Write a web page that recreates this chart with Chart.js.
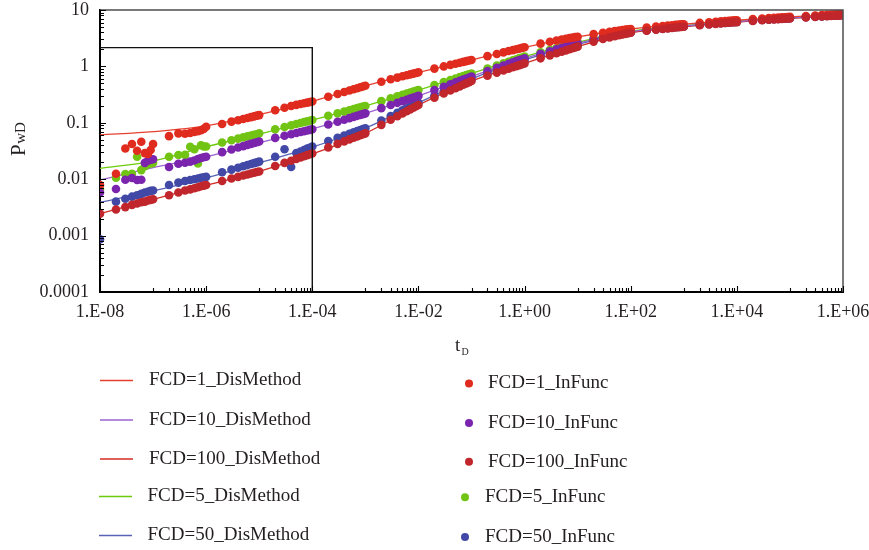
<!DOCTYPE html>
<html>
<head>
<meta charset="utf-8">
<script src="https://cdn.jsdelivr.net/npm/chart.js@4.4.1/dist/chart.umd.min.js"></script>
<style>
  html, body { margin: 0; padding: 0; background: #fff; }
  canvas { display: block; }
</style>
</head>
<body>
<canvas id="chart" width="869" height="550"></canvas>
<script>
// dimensionless time of every InFunc sample
const tD = [
  1e-8, 2e-8, 3e-8, 4e-8, 5e-8, 6e-8, 7e-8, 8e-8, 9e-8,
  1e-7, 2e-7, 3e-7, 4e-7, 5e-7, 6e-7, 7e-7, 8e-7, 9e-7,
  1e-6, 2e-6, 3e-6, 4e-6, 5e-6, 6e-6, 7e-6, 8e-6, 9e-6,
  1e-5, 2e-5, 3e-5, 4e-5, 5e-5, 6e-5, 7e-5, 8e-5, 9e-5,
  1e-4, 2e-4, 3e-4, 4e-4, 5e-4, 6e-4, 7e-4, 8e-4, 9e-4,
  1e-3, 2e-3, 3e-3, 4e-3, 5e-3, 6e-3, 7e-3, 8e-3, 9e-3,
  0.01, 0.02, 0.03, 0.04, 0.05, 0.06, 0.07, 0.08, 0.09,
  0.1, 0.2, 0.3, 0.4, 0.5, 0.6, 0.7, 0.8, 0.9,
  1, 2, 3, 4, 5, 6, 7, 8, 9,
  10, 20, 30, 40, 50, 60, 70, 80, 90,
  100, 200, 300, 400, 500, 600, 700, 800, 900,
  1000, 2000, 3000, 4000, 5000, 6000, 7000, 8000, 9000,
  1e4, 2e4, 3e4, 4e4, 5e4, 6e4, 7e4, 8e4, 9e4,
  1e5, 2e5, 3e5, 4e5, 5e5, 6e5, 7e5, 8e5, 9e5,
  1e6
];

// InFunc results (PwD)
const fcd1InFunc = [
  0.0079, 0.0125, 0.035, 0.042, 0.032, 0.046, 0.029, 0.028, 0.033,
  0.042, 0.058, 0.065, 0.064, 0.066, 0.069, 0.071, 0.074, 0.078,
  0.085, 0.095, 0.105, 0.111, 0.117, 0.122, 0.126, 0.130, 0.134,
  0.137, 0.167, 0.185, 0.198, 0.208, 0.216, 0.222, 0.228, 0.233,
  0.238, 0.289, 0.324, 0.351, 0.374, 0.394, 0.411, 0.427, 0.441,
  0.455, 0.536, 0.590, 0.632, 0.667, 0.696, 0.721, 0.745, 0.766,
  0.785, 0.914, 0.999, 1.064, 1.116, 1.162, 1.202, 1.238, 1.270,
  1.30, 1.52, 1.66, 1.77, 1.87, 1.94, 2.01, 2.07, 2.13,
  2.18, 2.53, 2.74, 2.88, 3.00, 3.09, 3.17, 3.24, 3.30,
  3.35, 3.73, 3.95, 4.10, 4.22, 4.32, 4.41, 4.48, 4.54,
  4.6, 4.90, 5.08, 5.20, 5.30, 5.38, 5.45, 5.50, 5.55,
  5.6, 5.90, 6.08, 6.20, 6.30, 6.38, 6.45, 6.50, 6.55,
  6.6, 6.89, 7.05, 7.17, 7.26, 7.34, 7.40, 7.46, 7.51,
  7.55, 7.84, 8.00, 8.12, 8.21, 8.29, 8.35, 8.41, 8.46,
  8.5
];
const fcd10InFunc = [
  0.0058, 0.0067, 0.0098, 0.0105, 0.0097, 0.0098, 0.0195, 0.0213, 0.0222,
  0.0226, 0.0165, 0.0188, 0.0196, 0.0205, 0.0215, 0.0228, 0.0238, 0.0245,
  0.025, 0.0302, 0.0336, 0.0364, 0.0386, 0.0406, 0.0423, 0.0438, 0.0453,
  0.0465, 0.054, 0.059, 0.0628, 0.0659, 0.0686, 0.0709, 0.073, 0.0749,
  0.0766, 0.0932, 0.1046, 0.1134, 0.1209, 0.1272, 0.1329, 0.138, 0.1427,
  0.147, 0.182, 0.207, 0.226, 0.242, 0.256, 0.269, 0.280, 0.290,
  0.30, 0.380, 0.437, 0.482, 0.520, 0.554, 0.584, 0.611, 0.636,
  0.66, 0.826, 0.942, 1.033, 1.111, 1.178, 1.239, 1.294, 1.343,
  1.39, 1.67, 1.86, 2.01, 2.14, 2.24, 2.34, 2.42, 2.50,
  2.57, 3.03, 3.30, 3.49, 3.64, 3.76, 3.86, 3.95, 4.03,
  4.1, 4.43, 4.62, 4.76, 4.87, 4.96, 5.03, 5.09, 5.15,
  5.2, 5.52, 5.70, 5.83, 5.93, 6.02, 6.09, 6.15, 6.20,
  6.25, 6.55, 6.73, 6.85, 6.95, 7.03, 7.10, 7.15, 7.20,
  7.25, 7.54, 7.70, 7.82, 7.91, 7.99, 8.05, 8.11, 8.16,
  8.2
];
const fcd100InFunc = [
  0.00245, 0.0029, 0.0032, 0.0035, 0.0037, 0.0039, 0.004, 0.0042, 0.0043,
  0.0044, 0.0052, 0.0058, 0.0063, 0.0066, 0.0069, 0.0072, 0.0075, 0.0077,
  0.0079, 0.0093, 0.0103, 0.011, 0.0116, 0.0121, 0.0126, 0.013, 0.0134,
  0.0137, 0.0171, 0.0195, 0.0213, 0.0229, 0.0243, 0.0255, 0.0267, 0.0277,
  0.0286, 0.0366, 0.0423, 0.0469, 0.0508, 0.0542, 0.0573, 0.0601, 0.0627,
  0.065, 0.092, 0.113, 0.1305, 0.146, 0.160, 0.173, 0.185, 0.196,
  0.207, 0.278, 0.330, 0.373, 0.410, 0.443, 0.472, 0.500, 0.525,
  0.55, 0.683, 0.776, 0.849, 0.910, 0.964, 1.011, 1.055, 1.094,
  1.13, 1.39, 1.57, 1.71, 1.82, 1.92, 2.01, 2.10, 2.17,
  2.24, 2.75, 3.06, 3.27, 3.44, 3.57, 3.68, 3.78, 3.87,
  3.95, 4.28, 4.47, 4.61, 4.72, 4.81, 4.88, 4.94, 5.00,
  5.05, 5.37, 5.55, 5.68, 5.78, 5.87, 5.94, 6.00, 6.05,
  6.1, 6.40, 6.58, 6.70, 6.80, 6.88, 6.95, 7.00, 7.05,
  7.1, 7.39, 7.55, 7.67, 7.76, 7.84, 7.90, 7.96, 8.01,
  8.05
];
const fcd5InFunc = [
  0.0066, 0.0106, 0.0124, 0.0125, 0.025, 0.0145, 0.017, 0.0185, 0.019,
  0.0195, 0.025, 0.0268, 0.027, 0.0377, 0.034, 0.019, 0.040, 0.038,
  0.038, 0.0447, 0.049, 0.0524, 0.0551, 0.0574, 0.0594, 0.0612, 0.0628,
  0.065, 0.0766, 0.0842, 0.090, 0.095, 0.099, 0.103, 0.106, 0.109,
  0.112, 0.133, 0.147, 0.158, 0.167, 0.175, 0.182, 0.188, 0.194,
  0.199, 0.242, 0.271, 0.294, 0.313, 0.329, 0.344, 0.357, 0.369,
  0.38, 0.466, 0.526, 0.572, 0.611, 0.645, 0.675, 0.702, 0.727,
  0.75, 0.92, 1.04, 1.13, 1.21, 1.28, 1.34, 1.40, 1.44,
  1.49, 1.78, 1.97, 2.12, 2.24, 2.35, 2.44, 2.52, 2.60,
  2.67, 3.13, 3.40, 3.59, 3.74, 3.86, 3.96, 4.05, 4.13,
  4.2, 4.53, 4.72, 4.86, 4.97, 5.06, 5.13, 5.19, 5.25,
  5.3, 5.62, 5.80, 5.93, 6.03, 6.12, 6.19, 6.25, 6.30,
  6.35, 6.65, 6.83, 6.95, 7.05, 7.13, 7.20, 7.25, 7.30,
  7.35, 7.64, 7.80, 7.92, 8.01, 8.09, 8.15, 8.21, 8.26,
  8.3
];
const fcd50InFunc = [
  0.00086, 0.004, 0.0045, 0.0049, 0.0052, 0.0055, 0.0058, 0.006, 0.0062,
  0.0063, 0.0079, 0.0087, 0.0093, 0.0097, 0.0100, 0.0103, 0.0106, 0.0108,
  0.011, 0.0133, 0.0148, 0.016, 0.017, 0.0178, 0.0186, 0.0193, 0.0199,
  0.0205, 0.025, 0.034, 0.0165, 0.029, 0.031, 0.033, 0.035, 0.036,
  0.038, 0.0475, 0.0542, 0.0595, 0.0639, 0.0678, 0.0713, 0.0744, 0.0773,
  0.080, 0.1095, 0.1315, 0.150, 0.166, 0.180, 0.193, 0.205, 0.216,
  0.227, 0.304, 0.361, 0.407, 0.448, 0.483, 0.516, 0.546, 0.574,
  0.60, 0.757, 0.868, 0.956, 1.031, 1.095, 1.153, 1.207, 1.255,
  1.30, 1.57, 1.76, 1.90, 2.02, 2.13, 2.22, 2.30, 2.38,
  2.45, 2.92, 3.19, 3.38, 3.53, 3.66, 3.76, 3.85, 3.93,
  4.0, 4.33, 4.52, 4.66, 4.77, 4.86, 4.93, 4.99, 5.05,
  5.1, 5.42, 5.60, 5.73, 5.83, 5.92, 5.99, 6.05, 6.10,
  6.15, 6.45, 6.63, 6.75, 6.85, 6.93, 7.00, 7.05, 7.10,
  7.15, 7.44, 7.60, 7.72, 7.81, 7.89, 7.95, 8.01, 8.06,
  8.1
];

// DisMethod curves, one value per decade
const tLine = [1e-8, 1e-7, 1e-6, 1e-5, 1e-4, 1e-3, 1e-2, 0.1, 1, 10, 100, 1e3, 1e4, 1e5, 1e6];
const fcd1Dis   = [0.061, 0.0697, 0.088, 0.14, 0.24, 0.455, 0.785, 1.30, 2.18, 3.35, 4.6, 5.6, 6.6, 7.55, 8.5];
const fcd10Dis  = [0.0097, 0.016, 0.025, 0.044, 0.078, 0.147, 0.30, 0.66, 1.39, 2.57, 4.1, 5.2, 6.25, 7.25, 8.2];
const fcd100Dis = [0.00245, 0.0044, 0.0078, 0.0137, 0.028, 0.065, 0.207, 0.55, 1.13, 2.24, 3.95, 5.05, 6.1, 7.1, 8.05];
const fcd5Dis   = [0.0156, 0.021, 0.0377, 0.063, 0.112, 0.199, 0.38, 0.75, 1.49, 2.67, 4.2, 5.3, 6.35, 7.35, 8.3];
const fcd50Dis  = [0.0039, 0.0062, 0.0105, 0.0195, 0.037, 0.080, 0.227, 0.60, 1.30, 2.45, 4.0, 5.1, 6.15, 7.15, 8.1];

// early-time window outline
const boxT = [1e-8, 1e-4, 1e-4];
const boxP = [2.15, 2.15, 1e-4];

const xTicks = [1e-8, 1e-6, 1e-4, 1e-2, 1, 1e2, 1e4, 1e6];
const xTickLabels = ['1.E-08', '1.E-06', '1.E-04', '1.E-02', '1.E+00', '1.E+02', '1.E+04', '1.E+06'];
const yTicks = [1e-4, 1e-3, 1e-2, 0.1, 1, 10];
const yTickLabels = ['0.0001', '0.001', '0.01', '0.1', '1', '10'];

const pts = (xs, ys) => xs.map((x, i) => ({ x: x, y: ys[i] }));

function disLine(label, values, color) {
  return {
    kind: 'line', label: label, data: pts(tLine, values),
    showLine: true, pointRadius: 0, borderColor: color, borderWidth: 1.3,
    cubicInterpolationMode: 'monotone', order: 10
  };
}
function inFunc(label, values, color, order) {
  return {
    kind: 'dot', label: label, data: pts(tD, values),
    pointRadius: 4.3, pointBackgroundColor: color, pointBorderWidth: 0,
    backgroundColor: color, borderColor: color, order: order
  };
}

const datasets = [
  { kind: 'box', data: pts(boxT, boxP), showLine: true, pointRadius: 0,
    borderColor: '#111', borderWidth: 1.4, order: 0 },
  disLine('FCD=1_DisMethod', fcd1Dis, '#e6412f'),
  disLine('FCD=10_DisMethod', fcd10Dis, '#9c62cf'),
  disLine('FCD=100_DisMethod', fcd100Dis, '#d22b22'),
  disLine('FCD=5_DisMethod', fcd5Dis, '#6ccc0c'),
  disLine('FCD=50_DisMethod', fcd50Dis, '#5763b3'),
  inFunc('FCD=1_InFunc', fcd1InFunc, '#e02b1f', 2),
  inFunc('FCD=10_InFunc', fcd10InFunc, '#7b24ad', 3),
  inFunc('FCD=100_InFunc', fcd100InFunc, '#c0262b', 1),
  inFunc('FCD=5_InFunc', fcd5InFunc, '#72c414', 5),
  inFunc('FCD=50_InFunc', fcd50InFunc, '#4248a6', 4)
];

const serif = '"Liberation Serif", "Times New Roman", serif';
Chart.defaults.font.family = serif;
Chart.defaults.color = '#231f20';

// the axes reserve no extra room for overhanging labels
const noOverhang = s => {
  s.paddingLeft = 0; s.paddingRight = 0; s.paddingTop = 0; s.paddingBottom = 0;
};

// frame on top/right and inward tick marks
const frameTicks = {
  id: 'frameTicks',
  afterDraw(chart) {
    const { ctx, chartArea: a } = chart;
    const xs = chart.scales.x, ys = chart.scales.y;
    ctx.save();
    ctx.strokeStyle = '#4d4d4d';
    ctx.lineWidth = 1.5;
    ctx.beginPath();
    ctx.moveTo(a.left, a.top);
    ctx.lineTo(a.right, a.top);
    ctx.lineTo(a.right, a.bottom);
    ctx.stroke();

    ctx.strokeStyle = '#000';
    ctx.lineWidth = 1.1;
    ctx.beginPath();
    for (let e = -4; e <= 1; e++) {
      for (let m = 1; m <= 9; m++) {
        const v = m * Math.pow(10, e);
        if (v > 10 + 1e-9) break;
        const y = Math.round(ys.getPixelForValue(v)) + 0.5;
        ctx.moveTo(a.left, y);
        ctx.lineTo(a.left + (m === 1 ? 6 : 4), y);
      }
    }
    xTicks.forEach(v => {
      const x = Math.round(xs.getPixelForValue(v)) + 0.5;
      ctx.moveTo(x, a.bottom);
      ctx.lineTo(x, a.bottom - 6);
    });
    for (let e = -7; e <= 5; e += 2) {
      for (let m = 1; m <= 9; m++) {
        const x = Math.round(xs.getPixelForValue(m * Math.pow(10, e))) + 0.5;
        ctx.moveTo(x, a.bottom);
        ctx.lineTo(x, a.bottom - 4);
      }
    }
    ctx.stroke();
    ctx.restore();
  }
};

// axis titles and the two-column legend
const titlesLegend = {
  id: 'titlesLegend',
  afterDraw(chart) {
    const ctx = chart.ctx;
    ctx.save();
    ctx.fillStyle = '#231f20';

    // y title: P with wD
    ctx.save();
    ctx.translate(25, 156);
    ctx.rotate(-Math.PI / 2);
    ctx.textBaseline = 'alphabetic';
    ctx.font = '21px ' + serif;
    ctx.fillText('P', 0, 0);
    const pw = ctx.measureText('P').width;
    ctx.font = '15px ' + serif;
    ctx.fillText('wD', pw + 0.5, 0);
    ctx.restore();

    // x title: t with subscript D
    ctx.textBaseline = 'alphabetic';
    ctx.font = '19px ' + serif;
    ctx.fillText('t', 455, 351);
    ctx.font = '10px ' + serif;
    ctx.fillText('D', 461.5, 355);

    const lineSets = chart.data.datasets.filter(d => d.kind === 'line');
    const dotSets = chart.data.datasets.filter(d => d.kind === 'dot');
    const leftY = [380.5, 420, 459, 496.5, 535.5];
    const leftLineX = [100, 100, 100, 99, 99];
    const leftTextX = [149, 149, 149, 147.5, 147.5];
    const rightY = [383.5, 423, 461.7, 497.3, 537];
    const dotX = [469, 469, 469, 465, 465];
    const rightTextX = [488, 488, 488, 485, 485];

    ctx.font = '19px ' + serif;
    ctx.textBaseline = 'middle';
    lineSets.forEach((d, i) => {
      ctx.strokeStyle = d.borderColor;
      ctx.lineWidth = 1.4;
      ctx.beginPath();
      ctx.moveTo(leftLineX[i], leftY[i]);
      ctx.lineTo(leftLineX[i] + 33, leftY[i]);
      ctx.stroke();
      ctx.fillStyle = '#231f20';
      ctx.fillText(d.label, leftTextX[i], leftY[i]);
    });
    dotSets.forEach((d, i) => {
      ctx.fillStyle = d.backgroundColor;
      ctx.beginPath();
      ctx.arc(dotX[i], rightY[i], 4, 0, Math.PI * 2);
      ctx.fill();
      ctx.fillStyle = '#231f20';
      ctx.fillText(d.label, rightTextX[i], rightY[i]);
    });
    ctx.restore();
  }
};

new Chart(document.getElementById('chart'), {
  type: 'scatter',
  data: { datasets: datasets },
  options: {
    responsive: false,
    animation: false,
    devicePixelRatio: 1,
    layout: { padding: { left: 0, top: 10, right: 26, bottom: 0 } },
    plugins: { legend: { display: false }, tooltip: { enabled: false } },
    scales: {
      x: {
        type: 'logarithmic', min: 1e-8, max: 1e6,
        afterBuildTicks: s => { s.ticks = xTicks.map(v => ({ value: v })); },
        afterFit: s => { s.height = 258; noOverhang(s); },
        grid: { display: false, drawTicks: false },
        border: { color: '#000', width: 2 },
        ticks: {
          autoSkip: false, maxRotation: 0, padding: 9,
          font: { size: 18 },
          callback: (v, i) => xTickLabels[i]
        }
      },
      y: {
        type: 'logarithmic', min: 1e-4, max: 10,
        afterBuildTicks: s => { s.ticks = yTicks.map(v => ({ value: v })); },
        afterFit: s => { s.width = 100; noOverhang(s); },
        grid: { display: false, drawTicks: false },
        border: { color: '#000', width: 2 },
        ticks: {
          autoSkip: false, padding: 11,
          font: { size: 18 },
          callback: (v, i) => yTickLabels[i]
        }
      }
    }
  },
  plugins: [frameTicks, titlesLegend]
});
</script>
</body>
</html>
